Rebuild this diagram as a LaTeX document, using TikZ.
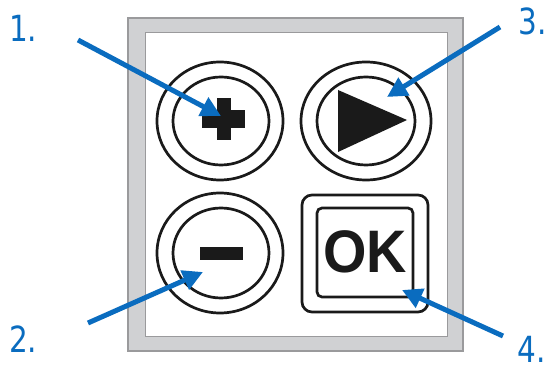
\documentclass[tikz,border=0pt]{standalone}
\usepackage{fontspec}
\setmainfont{DejaVu Sans}
\newfontfamily\okfont{Liberation Sans}
\usetikzlibrary{arrows.meta}
\definecolor{callblue}{HTML}{0A6CBF}
\definecolor{framegray}{HTML}{D0D1D3}
\definecolor{frameedge}{HTML}{9A9A9C}
\definecolor{inkblack}{HTML}{1A1A1A}
\tikzset{
  ring/.style={draw=inkblack, line width=2.7pt},
  glyph/.style={fill=inkblack, draw=none},
  callout/.style={draw=callblue, line width=5pt, -{Triangle[length=20pt,width=20pt]}},
  numlabel/.style={text=callblue, font=\fontsize{36}{40}\selectfont, inner sep=0pt, xscale=0.82},
}
\begin{document}
\begin{tikzpicture}[x=1pt,y=-1pt]
\useasboundingbox (0,0) rectangle (551,371);
% frame
\path[fill=framegray, draw=frameedge, line width=1.2pt] (128,18) rectangle (463,351);
\path[fill=white, draw=frameedge, line width=1pt] (145,33) rectangle (447,336);
% plus button
\draw[ring] (220,121) ellipse [x radius=63, y radius=59];
\draw[ring] (221,121) ellipse [x radius=48, y radius=44];
\fill[glyph] (202,110) rectangle (245,128);
\fill[glyph] (217,98) rectangle (231,140);
% play button
\draw[ring] (366,121) ellipse [x radius=65, y radius=59];
\draw[ring] (366,121) ellipse [x radius=49, y radius=44];
\fill[glyph] (338,90) -- (407,120) -- (338,152) -- cycle;
% minus button
\draw[ring] (220,253) ellipse [x radius=63, y radius=60];
\draw[ring] (221,253) ellipse [x radius=48, y radius=45];
\fill[glyph] (200,247) rectangle (243,260);
% OK button
\draw[ring, rounded corners=10pt] (302,195) rectangle (428,312);
\draw[ring, rounded corners=5pt] (317,208) rectangle (413,297);
\node[text=inkblack, inner sep=0pt, xscale=0.93] (ok) at (365,252) {\okfont\bfseries\fontsize{60}{60}\selectfont OK};
% labels
\node[numlabel, anchor=base west] (l1) at (9,42) {1.};
\node[numlabel, anchor=base west] (l2) at (9,352) {2.};
\node[numlabel, anchor=base east] (l3) at (547,35) {3.};
\node[numlabel, anchor=base east] (l4) at (546,362) {4.};
% callout start and tip points
\coordinate (s1) at (78,40);   \coordinate (t1) at (221,116);
\coordinate (s2) at (88,323);  \coordinate (t2) at (203,272);
\coordinate (s3) at (500,27);  \coordinate (t3) at (387,97);
\coordinate (s4) at (503,336); \coordinate (t4) at (402,290);
\draw[callout] (s1) -- (t1);
\draw[callout] (s2) -- (t2);
\draw[callout] (s3) -- (t3);
\draw[callout] (s4) -- (t4);
\end{tikzpicture}
\end{document}
